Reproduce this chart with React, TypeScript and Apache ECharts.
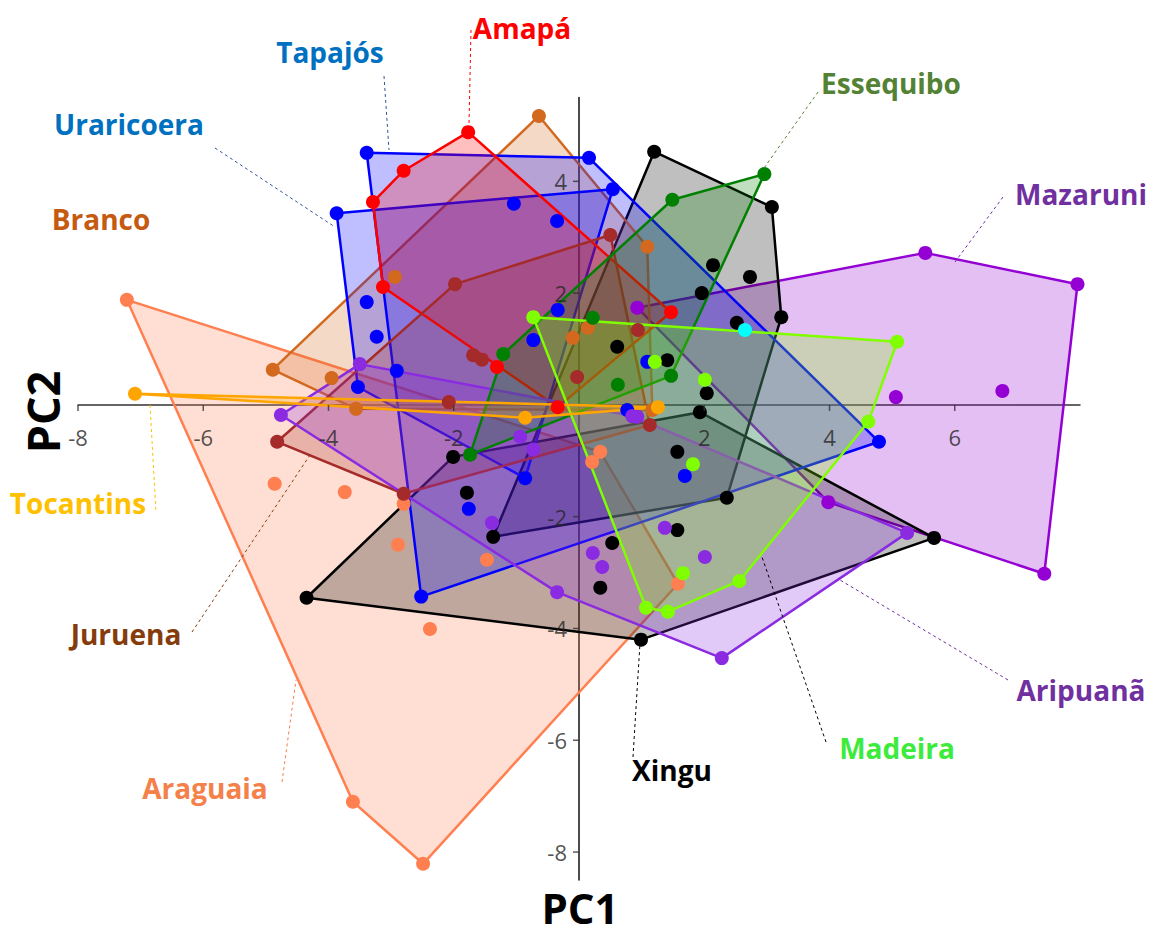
import React, { useEffect, useRef } from "react";
import * as echarts from "echarts";

type Pt = [number, number];

// ---- data: hull vertices (in order) and interior points for each group ----
const amapaHull: Pt[] = [[-1.77, 4.88], [1.47, 1.66], [-0.34, -0.04], [-3.13, 2.11], [-3.29, 3.63], [-2.8, 4.19]];
const amapaInner: Pt[] = [[-1.31, 0.68]];

const tapajosHull: Pt[] = [[-3.39, 4.51], [0.16, 4.42], [4.79, -0.66], [-2.52, -3.43]];
const tapajosInner: Pt[] = [[-1.04, 3.6], [-0.35, 3.29], [-0.34, 1.7], [-0.73, 1.16], [0.77, -0.09], [1.09, 0.77], [-1.76, -1.86], [1.69, -1.27], [-2.91, 0.61]];

const uraricoeraHull: Pt[] = [[-3.87, 3.43], [0.54, 3.86], [-0.86, -1.31], [-3.53, 0.32]];
const uraricoeraInner: Pt[] = [[-3.39, 1.84], [-3.23, 1.22]];

const brancoHull: Pt[] = [[-0.64, 5.17], [1.09, 2.83], [1.17, -0.09], [-3.56, -0.07], [-4.89, 0.63]];
const brancoInner: Pt[] = [[-2.94, 2.29], [-3.95, 0.48], [-0.1, 1.2], [0.14, 1.38]];

const tocantinsHull: Pt[] = [[-7.09, 0.2], [1.26, -0.04], [-0.86, -0.23]];
const tocantinsInner: Pt[] = [];

const juruenaHull: Pt[] = [[-4.82, -0.66], [-1.98, 2.16], [0.5, 3.04], [1.13, -0.36], [-2.8, -1.59]];
const juruenaInner: Pt[] = [[-1.69, 0.89], [-1.55, 0.81], [-0.03, 0.5], [-2.08, 0.05], [0.94, 1.34]];

const araguaiaHull: Pt[] = [[-7.22, 1.88], [0.34, -0.84], [1.58, -3.2], [-2.49, -8.21], [-3.61, -7.1]];
const araguaiaInner: Pt[] = [[0.21, -1.02], [-4.86, -1.41], [-3.74, -1.56], [-2.8, -1.77], [-2.89, -2.5], [-1.47, -2.77], [-2.38, -4.01]];

const essequiboHull: Pt[] = [[1.49, 3.67], [2.96, 4.13], [1.47, 0.52], [-1.74, -0.89], [-1.21, 0.91]];
const essequiboInner: Pt[] = [[0.22, 1.56], [0.62, 0.36]];

const mazaruniHull: Pt[] = [[0.93, 1.74], [5.53, 2.72], [7.96, 2.16], [7.43, -3.02], [3.98, -1.74]];
const mazaruniInner: Pt[] = [[5.06, 0.14], [6.76, 0.25]];

const aripuanaHull: Pt[] = [[-3.5, 0.73], [0.85, -0.2], [5.24, -2.29], [2.28, -4.53], [-0.35, -3.35], [-4.76, -0.18]];
const aripuanaInner: Pt[] = [[-1.39, -2.11], [-0.94, -0.57], [-0.73, -0.8], [0.22, -2.65], [0.37, -2.9], [1.37, -2.2], [2.01, -2.72], [0.93, -0.21]];

const madeiraHull: Pt[] = [[-0.73, 1.57], [5.08, 1.13], [4.62, -0.3], [2.56, -3.15], [1.42, -3.7], [1.07, -3.63]];
const madeiraInner: Pt[] = [[1.21, 0.77], [2.01, 0.45], [1.82, -1.06], [1.66, -3.01]];

const xinguHull: Pt[] = [[-2.01, -0.93], [1.93, -0.13], [5.67, -2.38], [0.99, -4.2], [-4.35, -3.45]];
const xinguInner: Pt[] = [[1.57, -2.24], [0.53, -2.47], [0.34, -3.27], [-1.79, -1.57]];

const xingu2Hull: Pt[] = [[1.2, 4.53], [3.08, 3.54], [3.23, 1.57], [2.36, -1.66], [-1.37, -2.36]];
const xingu2Inner: Pt[] = [[2.14, 2.5], [2.73, 2.29], [1.96, 2.0], [2.52, 1.47], [0.61, 1.04], [1.41, 0.8], [2.04, 0.21], [1.57, -0.84]];

const cyanPoints: Pt[] = [[2.65, 1.34]];

const xTicks = [-8, -6, -4, -2, 2, 4, 6];
const yTicks = [-8, -6, -4, -2, 2, 4];

const groups = [
  { name: "Araguaia", color: "#FF7F50", hull: araguaiaHull, inner: araguaiaInner },
  { name: "Mazaruni", color: "#9400D3", hull: mazaruniHull, inner: mazaruniInner },
  { name: "Xingu", color: "#000000", hull: xinguHull, inner: xinguInner },
  { name: "Xingu2", color: "#000000", hull: xingu2Hull, inner: xingu2Inner },
  { name: "Branco", color: "#D2691E", hull: brancoHull, inner: brancoInner },
  { name: "Tapajós", color: "#0000FF", hull: tapajosHull, inner: tapajosInner },
  { name: "Uraricoera", color: "#0000FF", hull: uraricoeraHull, inner: uraricoeraInner },
  { name: "Amapá", color: "#FF0000", hull: amapaHull, inner: amapaInner },
  { name: "Juruena", color: "#A52A2A", hull: juruenaHull, inner: juruenaInner },
  { name: "Aripuanã", color: "#8A2BE2", hull: aripuanaHull, inner: aripuanaInner },
  { name: "Essequibo", color: "#008000", hull: essequiboHull, inner: essequiboInner },
  { name: "Madeira", color: "#7FFF00", hull: madeiraHull, inner: madeiraInner },
  { name: "Tocantins", color: "#FFA500", hull: tocantinsHull, inner: tocantinsInner },
];

// label annotations: text, colour, centre, leader line
const labels = [
  { text: "Tapajós", color: "#0070C0", lineColor: "#2F5597", x: 330, y: 52, line: [384, 76, 389, 150] },
  { text: "Amapá", color: "#FF0000", lineColor: "#FF0000", x: 522, y: 28, line: [471, 30, 469, 125] },
  { text: "Essequibo", color: "#548235", lineColor: "#548235", x: 891, y: 83, line: [818, 92, 764, 168] },
  { text: "Uraricoera", color: "#0070C0", lineColor: "#2F5597", x: 129, y: 124, line: [215, 148, 335, 227] },
  { text: "Branco", color: "#C55A11", lineColor: "#C55A11", x: 101, y: 219, line: null },
  { text: "Mazaruni", color: "#7030A0", lineColor: "#7030A0", x: 1081, y: 194, line: [1003, 197, 955, 262] },
  { text: "Tocantins", color: "#FFC000", lineColor: "#FFC000", x: 78, y: 503, line: [150, 405, 156, 512] },
  { text: "Juruena", color: "#843C0C", lineColor: "#843C0C", x: 126, y: 634, line: [192, 632, 310, 455] },
  { text: "Araguaia", color: "#F4804A", lineColor: "#F4804A", x: 205, y: 788, line: [282, 782, 296, 680] },
  { text: "Aripuanã", color: "#7030A0", lineColor: "#7030A0", x: 1081, y: 690, line: [1008, 680, 840, 580] },
  { text: "Madeira", color: "#3CEB3C", lineColor: "#000000", x: 897, y: 748, line: [826, 742, 762, 557] },
  { text: "Xingu", color: "#000000", lineColor: "#000000", x: 672, y: 770, line: [633, 757, 640, 643] },
];

function rgba(hex: string, a: number) {
  const n = parseInt(hex.slice(1), 16);
  return `rgba(${(n >> 16) & 255},${(n >> 8) & 255},${n & 255},${a})`;
}

export default function App() {
  const ref = useRef<HTMLDivElement>(null);
  useEffect(() => {
    if (!ref.current) return;
    const chart = echarts.init(ref.current, null, { renderer: "svg" });
    const font = "Open Sans";
    const series: any[] = [];
    groups.forEach((g) => {
      series.push({
        type: "custom",
        name: g.name + "-hull",
        coordinateSystem: "cartesian2d",
        data: g.hull,
        z: 2,
        clip: false,
        silent: true,
        renderItem: (params: any, api: any) => {
          if (params.dataIndex !== 0) return null;
          const pts = g.hull.map((p) => api.coord(p));
          return {
            type: "polygon",
            shape: { points: pts },
            style: { fill: rgba(g.color, 0.25), stroke: g.color, lineWidth: 2.5, lineJoin: "round" },
          };
        },
      });
    });
    groups.forEach((g) => {
      series.push({
        type: "scatter",
        name: g.name,
        data: [...g.hull, ...g.inner],
        symbol: "circle",
        symbolSize: 14,
        z: 5,
        itemStyle: { color: g.color, opacity: 1 },
      });
    });
    series.push({
      type: "scatter",
      name: "other",
      data: cyanPoints,
      symbolSize: 14,
      z: 5,
      itemStyle: { color: "#00FFFF", opacity: 1 },
    });
    // tick marks and tick labels on the axes crossing at the origin
    series.push({
      type: "scatter",
      name: "xticks",
      data: xTicks.map((v) => [v, 0]),
      symbol: "rect",
      symbolSize: [1.5, 6],
      symbolOffset: [0, 3],
      z: 6,
      silent: true,
      itemStyle: { color: "#333" },
      label: {
        show: true,
        position: "bottom",
        distance: 15,
        formatter: (p: any) => String(p.value[0]),
        fontSize: 22,
        color: "#262626",
        fontFamily: font,
      },
    });
    series.push({
      type: "scatter",
      name: "yticks",
      data: yTicks.map((v) => [0, v]),
      symbol: "rect",
      symbolSize: [6, 1.5],
      symbolOffset: [-3, 0],
      z: 6,
      silent: true,
      itemStyle: { color: "#333" },
      label: {
        show: true,
        position: "left",
        distance: 6,
        formatter: (p: any) => String(p.value[1]),
        fontSize: 22,
        color: "#262626",
        fontFamily: font,
      },
    });

    const graphic: any[] = [];
    labels.forEach((l) => {
      if (l.line) {
        graphic.push({
          type: "line",
          shape: { x1: l.line[0], y1: l.line[1], x2: l.line[2], y2: l.line[3] },
          style: { stroke: l.lineColor, lineWidth: 1, lineDash: [3, 3] },
          z: 10,
        });
      }
      graphic.push({
        type: "text",
        x: l.x,
        y: l.y,
        z: 10,
        style: {
          text: l.text,
          fill: l.color,
          font: `bold 28px "${font}"`,
          textAlign: "center",
          textVerticalAlign: "middle",
          align: "center",
          verticalAlign: "middle",
        },
      });
    });
    graphic.push({
      type: "text",
      x: 580,
      y: 907,
      z: 10,
      style: { text: "PC1", fill: "#000", font: `bold 42px "${font}"`, textAlign: "center", textVerticalAlign: "middle", align: "center", verticalAlign: "middle" },
    });
    graphic.push({
      type: "text",
      x: 42,
      y: 412,
      rotation: Math.PI / 2,
      z: 10,
      style: { text: "PC2", fill: "#000", font: `bold 45px "${font}"`, textAlign: "center", textVerticalAlign: "middle", align: "center", verticalAlign: "middle" },
    });

    chart.setOption({
      animation: false,
      backgroundColor: "#fff",
      grid: { left: 78, right: 73, top: 97.5, bottom: 55, containLabel: false },
      xAxis: {
        type: "value",
        min: -8,
        max: 8,
        axisLine: { onZero: true, lineStyle: { color: "#333", width: 1.5 } },
        axisTick: { show: false },
        axisLabel: { show: false },
        splitLine: { show: false },
      },
      yAxis: {
        type: "value",
        min: -8.5,
        max: 5.5,
        axisLine: { onZero: true, lineStyle: { color: "#111", width: 1.5 } },
        axisTick: { show: false },
        axisLabel: { show: false },
        splitLine: { show: false },
      },
      series,
      graphic,
    });
    return () => chart.dispose();
  }, []);
  return (
    <div
      ref={ref}
      style={{ position: "absolute", left: 0, top: 0, width: 1153, height: 935, background: "#fff" }}
    />
  );
}
